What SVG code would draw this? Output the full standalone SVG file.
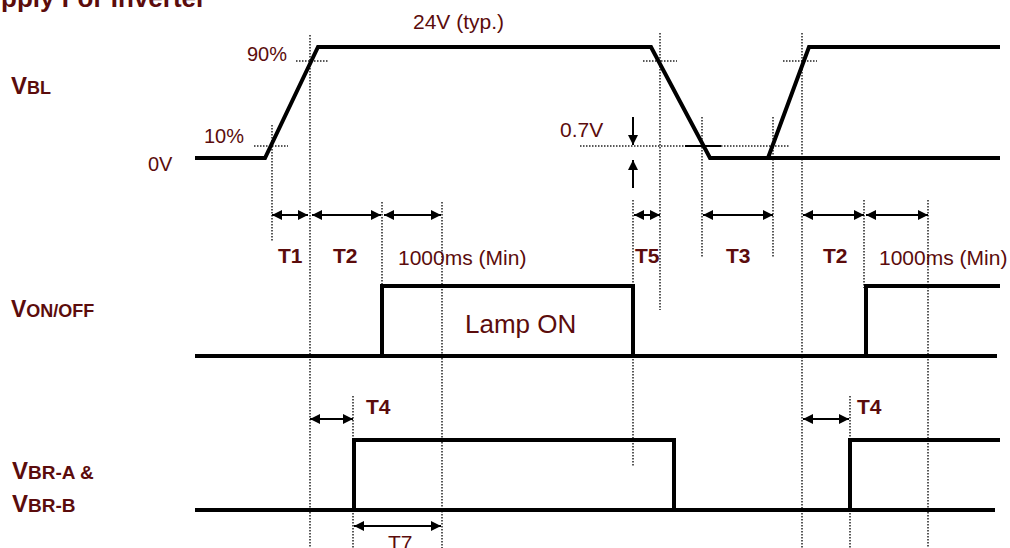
<svg xmlns="http://www.w3.org/2000/svg" width="1010" height="548" viewBox="0 0 1010 548">
<style>
.sig{fill:none;stroke:#000;stroke-width:4;stroke-linejoin:miter}
.dot{fill:none;stroke:#222;stroke-width:1.5;stroke-dasharray:1.5 1.5}
.arr{fill:none;stroke:#000;stroke-width:2;marker-start:url(#ah);marker-end:url(#ah)}
.one{fill:none;stroke:#000;stroke-width:2;marker-end:url(#ah)}
.t{font-family:"Liberation Sans",Arial,sans-serif;fill:#5b0c0c}
.b{font-weight:bold}
</style>
<defs>
<marker id="ah" viewBox="0 0 10 10" refX="10" refY="5" markerWidth="11" markerHeight="10" markerUnits="userSpaceOnUse" orient="auto-start-reverse">
<path d="M0,0 L10,5 L0,10 z" fill="#000"/>
</marker>
</defs>
<rect width="1010" height="548" fill="#fff"/>
<text id="title" class="t b" x="1" y="7" font-size="26">pply For Inverter</text>

<g id="labels">
<text class="t b" x="11" y="94"><tspan font-size="24">V</tspan><tspan font-size="18">BL</tspan></text>
<text class="t b" x="11" y="317"><tspan font-size="23">V</tspan><tspan font-size="18">ON/OFF</tspan></text>
<text class="t b" x="12" y="479"><tspan font-size="24">V</tspan><tspan font-size="19">BR-A &amp;</tspan></text>
<text class="t b" x="12" y="512"><tspan font-size="24">V</tspan><tspan font-size="19">BR-B</tspan></text>
</g>

<g id="guides">
<path class="dot" d="M272,125V242 M310,35V548 M382,202V288 M442,202V548 M633,200V467 M660,33V310 M702,117V258 M773,117V258 M802,33V548 M864,200V288 M928,200V548 M353,396V548 M850,396V548"/>
<path class="dot" d="M296,61H329 M643,61H677 M783,61H817 M254,146H288 M580,146H685 M721,146H790"/>
<path d="M685,146H721" stroke="#000" stroke-width="2"/>
</g>

<g id="signals">
<path id="vbl" class="sig" d="M195,158H265L318,47H651L710,158H768L809,47H1000 M768,158H1000"/>
<path id="von" class="sig" d="M195,356H997 M382,356V286H633V356 M866,356V286H1000"/>
<path id="vbr" class="sig" d="M195,510H995 M354,510V440H674V510 M850,510V440H1000"/>
</g>

<g id="connectors">
<line class="arr" x1="272" y1="215" x2="308" y2="215"/>
<line class="arr" x1="312" y1="215" x2="381" y2="215"/>
<line class="arr" x1="384" y1="215" x2="441" y2="215"/>
<line class="arr" x1="634" y1="215" x2="660" y2="215"/>
<line class="arr" x1="703" y1="215" x2="773" y2="215"/>
<line class="arr" x1="803" y1="215" x2="864" y2="215"/>
<line class="arr" x1="866" y1="215" x2="928" y2="215"/>
<line class="arr" x1="310" y1="419" x2="353" y2="419"/>
<line class="arr" x1="803" y1="419" x2="849" y2="419"/>
<line class="arr" x1="354" y1="526" x2="441" y2="526"/>
<line class="one" x1="633" y1="117" x2="633" y2="145"/>
<line class="one" x1="633" y1="188" x2="633" y2="160"/>
</g>

<g id="texts">
<text class="t" x="247" y="61" font-size="20">90%</text>
<text class="t" x="204" y="143" font-size="20">10%</text>
<text class="t" x="148" y="171" font-size="20">0V</text>
<text class="t" x="413" y="29" font-size="21">24V (typ.)</text>
<text class="t" x="560" y="137" font-size="21">0.7V</text>
<text class="t b" x="278" y="263" font-size="21">T1</text>
<text class="t b" x="333" y="263" font-size="21">T2</text>
<text class="t" x="398" y="265" font-size="21">1000ms (Min)</text>
<text class="t b" x="635" y="263" font-size="21">T5</text>
<text class="t b" x="726" y="263" font-size="21">T3</text>
<text class="t b" x="823" y="263" font-size="21">T2</text>
<text class="t" x="879" y="265" font-size="21">1000ms (Min)</text>
<text class="t" x="465" y="333" font-size="26">Lamp ON</text>
<text class="t b" x="366" y="414" font-size="21">T4</text>
<text class="t b" x="857" y="414" font-size="21">T4</text>
<text class="t" x="388" y="550" font-size="21">T7</text>
</g>
</svg>
